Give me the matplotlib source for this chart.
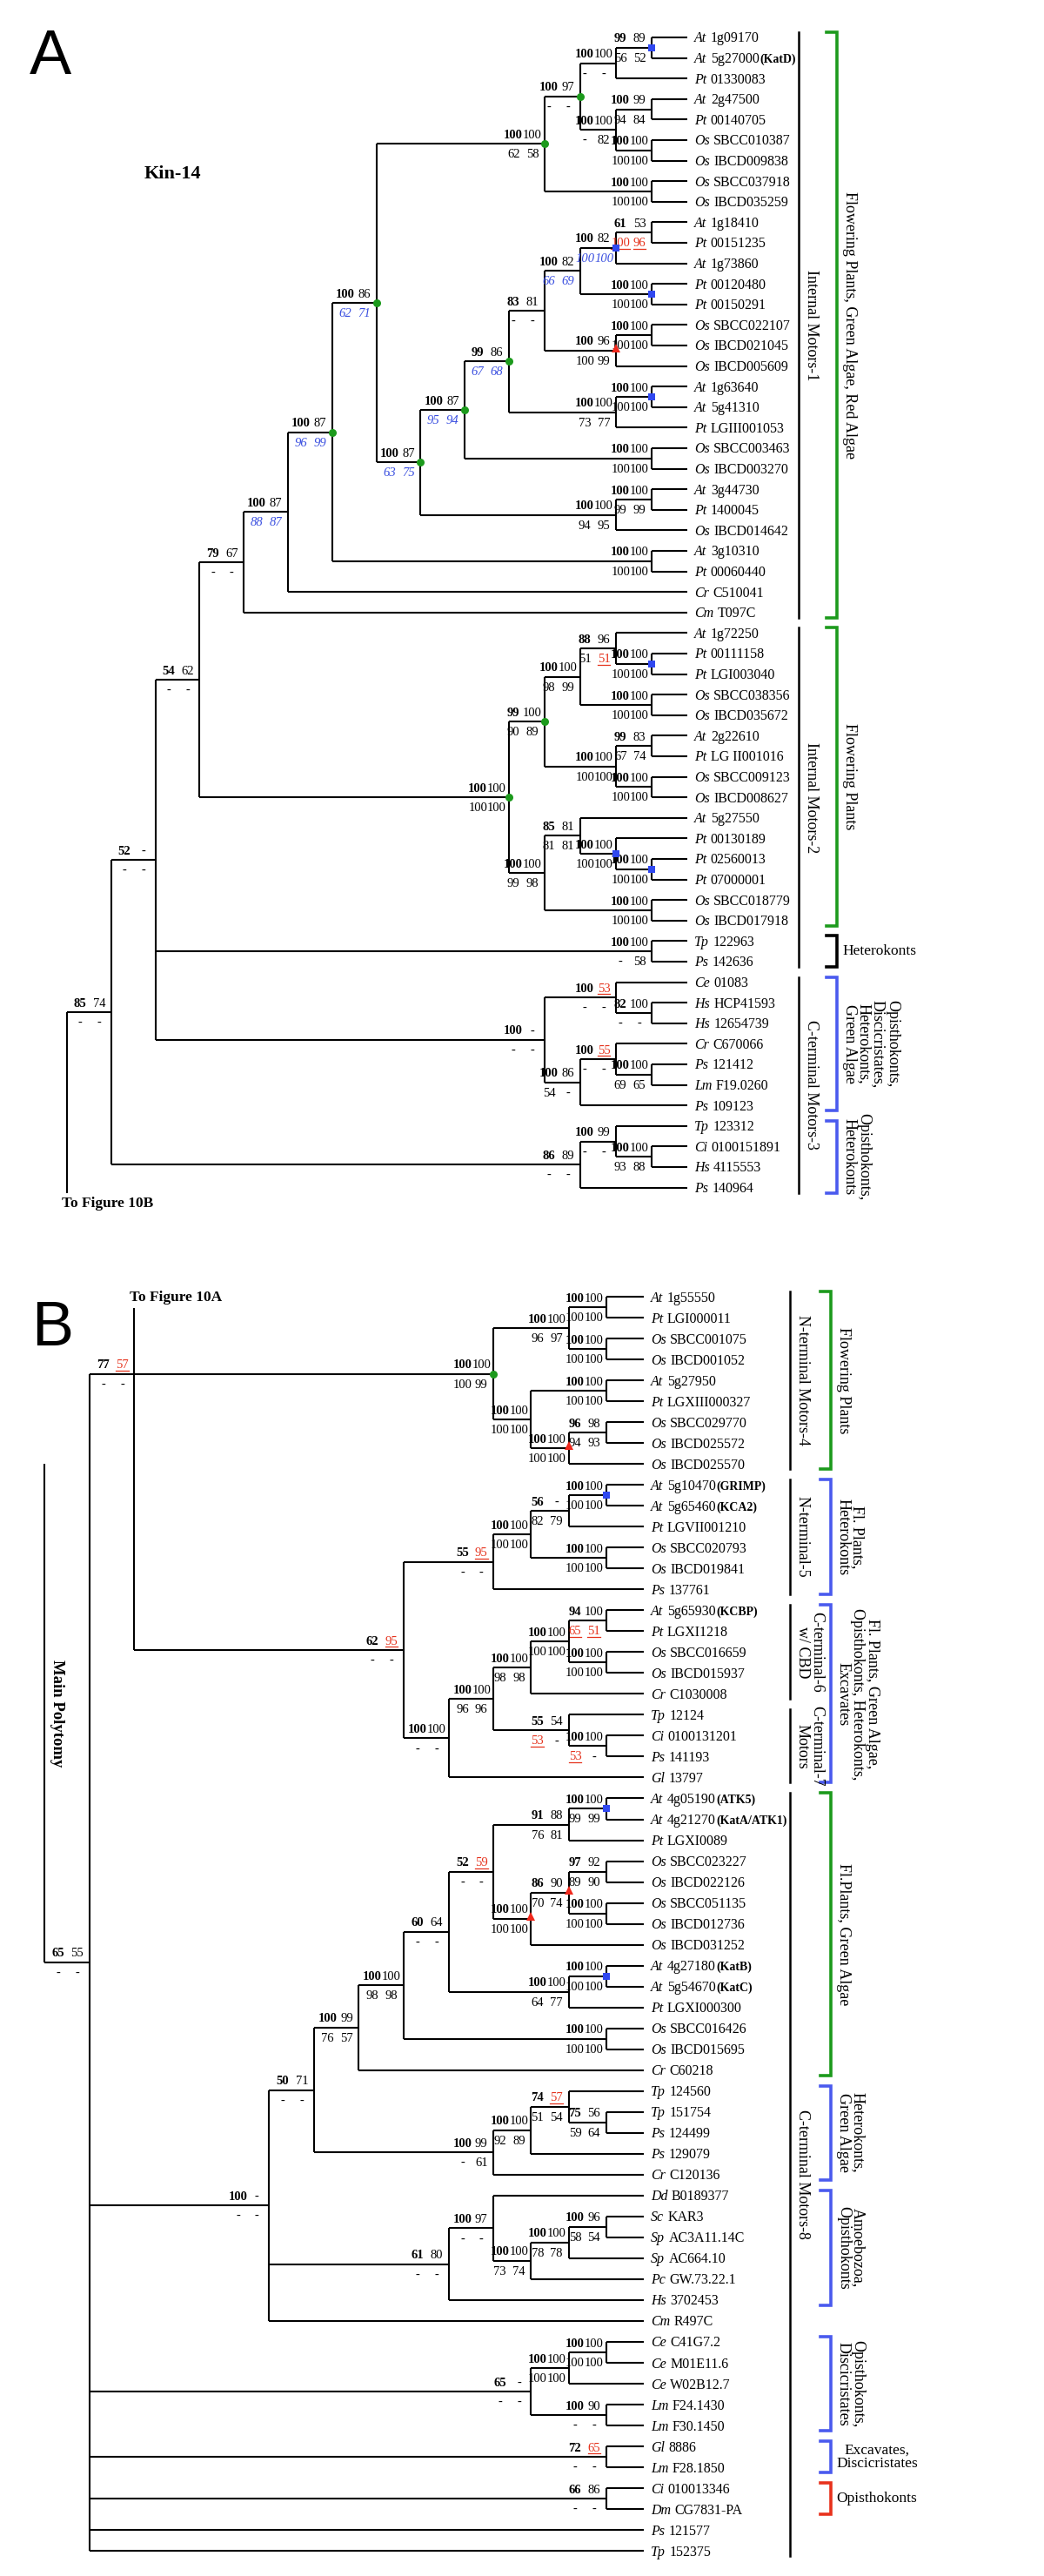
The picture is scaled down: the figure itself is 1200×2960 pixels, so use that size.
import matplotlib
matplotlib.use("Agg")
import matplotlib.pyplot as plt

SERIF = "Liberation Serif"
SANS = "Liberation Sans"
COLORS = {"green": "#1c9a1c", "blue": "#4a5aee", "black": "black", "red": "#e8321c"}
BLUE_TXT = "#3a4fe0"
RED = "#e5321c"

LEAF_FS = 11.5
SUFFIX_FS = 10
SUP_FS = 10.5
GROUP_FS = 13

# ---------------- panel A (Kin-14, upper half of the tree) ----------------
A_LEAVES = [
    "At 1g09170", "At 5g27000(KatD)", "Pt 01330083", "At 2g47500", "Pt 00140705",
    "Os SBCC010387", "Os IBCD009838", "Os SBCC037918", "Os IBCD035259",
    "At 1g18410", "Pt 00151235", "At 1g73860", "Pt 00120480", "Pt 00150291",
    "Os SBCC022107", "Os IBCD021045", "Os IBCD005609", "At 1g63640", "At 5g41310",
    "Pt LGIII001053", "Os SBCC003463", "Os IBCD003270", "At 3g44730", "Pt 1400045",
    "Os IBCD014642", "At 3g10310", "Pt 00060440", "Cr C510041", "Cm T097C",
    "At 1g72250", "Pt 00111158", "Pt LGI003040", "Os SBCC038356", "Os IBCD035672",
    "At 2g22610", "Pt LG II001016", "Os SBCC009123", "Os IBCD008627", "At 5g27550",
    "Pt 00130189", "Pt 02560013", "Pt 07000001", "Os SBCC018779", "Os IBCD017918",
    "Tp 122963", "Ps 142636", "Ce 01083", "Hs HCP41593", "Hs 12654739",
    "Cr C670066", "Ps 121412", "Lm F19.0260", "Ps 109123", "Tp 123312",
    "Ci 0100151891", "Hs 4115553", "Ps 140964",
]

# name, children (top to bottom), support above, support below, node mark
# "~" = blue italic row, "*" = red underlined value
A_CLADES = [
    ("a1", ["At 1g09170", "At 5g27000(KatD)"], "99 89", "56 52", "sq"),
    ("a2", ["a1", "Pt 01330083"], "100 100", "- -", ""),
    ("a3", ["At 2g47500", "Pt 00140705"], "100 99", "94 84", ""),
    ("a4", ["Os SBCC010387", "Os IBCD009838"], "100 100", "100 100", ""),
    ("a5", ["a3", "a4"], "100 100", "- 82", ""),
    ("a6", ["a2", "a5"], "100 97", "- -", "dot"),
    ("a7", ["Os SBCC037918", "Os IBCD035259"], "100 100", "100 100", ""),
    ("a8", ["a6", "a7"], "100 100", "62 58", "dot"),
    ("b1", ["At 1g18410", "Pt 00151235"], "61 53", "100* 96*", ""),
    ("b2", ["b1", "At 1g73860"], "100 82", "~100 100", "sq"),
    ("b3", ["Pt 00120480", "Pt 00150291"], "100 100", "100 100", "sq"),
    ("b4", ["b2", "b3"], "100 82", "~66 69", ""),
    ("b5", ["Os SBCC022107", "Os IBCD021045"], "100 100", "100 100", ""),
    ("b6", ["b5", "Os IBCD005609"], "100 96", "100 99", "tri"),
    ("b7", ["b4", "b6"], "83 81", "- -", ""),
    ("b8", ["At 1g63640", "At 5g41310"], "100 100", "100 100", "sq"),
    ("b9", ["b8", "Pt LGIII001053"], "100 100", "73 77", ""),
    ("b10", ["b7", "b9"], "99 86", "~67 68", "dot"),
    ("b11", ["Os SBCC003463", "Os IBCD003270"], "100 100", "100 100", ""),
    ("b12", ["b10", "b11"], "100 87", "~95 94", "dot"),
    ("c1", ["At 3g44730", "Pt 1400045"], "100 100", "99 99", ""),
    ("c2", ["c1", "Os IBCD014642"], "100 100", "94 95", ""),
    ("b13", ["b12", "c2"], "100 87", "~63 75", "dot"),
    ("a9", ["a8", "b13"], "100 86", "~62 71", "dot"),
    ("d1", ["At 3g10310", "Pt 00060440"], "100 100", "100 100", ""),
    ("a10", ["a9", "d1"], "100 87", "~96 99", "dot"),
    ("a11", ["a10", "Cr C510041"], "100 87", "~88 87", ""),
    ("a12", ["a11", "Cm T097C"], "79 67", "- -", ""),
    ("e1", ["Pt 00111158", "Pt LGI003040"], "100 100", "100 100", "sq"),
    ("e2", ["At 1g72250", "e1"], "88 96", "51 51*", ""),
    ("e3", ["Os SBCC038356", "Os IBCD035672"], "100 100", "100 100", ""),
    ("e4", ["e2", "e3"], "100 100", "98 99", ""),
    ("e5", ["At 2g22610", "Pt LG II001016"], "99 83", "67 74", ""),
    ("e6", ["Os SBCC009123", "Os IBCD008627"], "100 100", "100 100", ""),
    ("e7", ["e5", "e6"], "100 100", "100 100", ""),
    ("e8", ["e4", "e7"], "99 100", "90 89", "dot"),
    ("f1", ["Pt 02560013", "Pt 07000001"], "100 100", "100 100", "sq"),
    ("f2", ["Pt 00130189", "f1"], "100 100", "100 100", "sq"),
    ("f3", ["At 5g27550", "f2"], "85 81", "81 81", ""),
    ("f4", ["Os SBCC018779", "Os IBCD017918"], "100 100", "100 100", ""),
    ("f5", ["f3", "f4"], "100 100", "99 98", ""),
    ("e9", ["e8", "f5"], "100 100", "100 100", "dot"),
    ("a13", ["a12", "e9"], "54 62", "- -", ""),
    ("i1", ["Tp 122963", "Ps 142636"], "100 100", "- 58", ""),
    ("g1", ["Hs HCP41593", "Hs 12654739"], "82 100", "- -", ""),
    ("g2", ["Ce 01083", "g1"], "100 53*", "- -", ""),
    ("g3", ["Ps 121412", "Lm F19.0260"], "100 100", "69 65", ""),
    ("g4", ["Cr C670066", "g3"], "100 55*", "- -", ""),
    ("g5", ["g4", "Ps 109123"], "100 86", "54 -", ""),
    ("g6", ["g2", "g5"], "100 -", "- -", ""),
    ("n52", ["a13", "i1", "g6"], "52 -", "- -", ""),
    ("h1", ["Ci 0100151891", "Hs 4115553"], "100 100", "93 88", ""),
    ("h2", ["Tp 123312", "h1"], "100 99", "- -", ""),
    ("h3", ["h2", "Ps 140964"], "86 89", "- -", ""),
    ("r85", ["n52", "h3"], "85 74", "- -", ""),
]

A_LINES = [("Internal Motors-1", 0, 28), ("Internal Motors-2", 29, 45),
           ("C-terminal Motors-3", 46, 56)]
A_BRACKETS = [
    ("Flowering Plants, Green Algae, Red Algae", 0, 28, "green", "v"),
    ("Flowering Plants", 29, 43, "green", "v"),
    ("Heterokonts", 44, 45, "black", "h"),
    ("Opisthokonts,\nDiscicristates,\nHeterokonts,\nGreen Algae", 46, 52, "blue", "v"),
    ("Opisthokonts,\nHeterokonts", 53, 56, "blue", "v"),
]

# ---------------- panel B (lower half, main polytomy) ----------------
B_LEAVES = [
    "At 1g55550", "Pt LGI000011", "Os SBCC001075", "Os IBCD001052", "At 5g27950",
    "Pt LGXIII000327", "Os SBCC029770", "Os IBCD025572", "Os IBCD025570",
    "At 5g10470(GRIMP)", "At 5g65460(KCA2)", "Pt LGVII001210", "Os SBCC020793",
    "Os IBCD019841", "Ps 137761", "At 5g65930(KCBP)", "Pt LGXI1218", "Os SBCC016659",
    "Os IBCD015937", "Cr C1030008", "Tp 12124", "Ci 0100131201", "Ps 141193",
    "Gl 13797", "At 4g05190(ATK5)", "At 4g21270(KatA/ATK1)", "Pt LGXI0089",
    "Os SBCC023227", "Os IBCD022126", "Os SBCC051135", "Os IBCD012736",
    "Os IBCD031252", "At 4g27180(KatB)", "At 5g54670(KatC)", "Pt LGXI000300",
    "Os SBCC016426", "Os IBCD015695", "Cr C60218", "Tp 124560", "Tp 151754",
    "Ps 124499", "Ps 129079", "Cr C120136", "Dd B0189377", "Sc KAR3",
    "Sp AC3A11.14C", "Sp AC664.10", "Pc GW.73.22.1", "Hs 3702453", "Cm R497C",
    "Ce C41G7.2", "Ce M01E11.6", "Ce W02B12.7", "Lm F24.1430", "Lm F30.1450",
    "Gl 8886", "Lm F28.1850", "Ci 010013346", "Dm CG7831-PA", "Ps 121577",
    "Tp 152375",
]

B_CLADES = [
    ("j1", ["At 1g55550", "Pt LGI000011"], "100 100", "100 100", ""),
    ("j2", ["Os SBCC001075", "Os IBCD001052"], "100 100", "100 100", ""),
    ("j3", ["j1", "j2"], "100 100", "96 97", ""),
    ("j4", ["At 5g27950", "Pt LGXIII000327"], "100 100", "100 100", ""),
    ("j5", ["Os SBCC029770", "Os IBCD025572"], "96 98", "94 93", ""),
    ("j6", ["j5", "Os IBCD025570"], "100 100", "100 100", "tri"),
    ("j7", ["j4", "j6"], "100 100", "100 100", ""),
    ("j8", ["j3", "j7"], "100 100", "100 99", "dot"),
    ("k1", ["At 5g10470(GRIMP)", "At 5g65460(KCA2)"], "100 100", "100 100", "sq"),
    ("k2", ["k1", "Pt LGVII001210"], "56 -", "82 79", ""),
    ("k3", ["Os SBCC020793", "Os IBCD019841"], "100 100", "100 100", ""),
    ("k4", ["k2", "k3"], "100 100", "100 100", ""),
    ("k5", ["k4", "Ps 137761"], "55 95*", "- -", ""),
    ("l1", ["At 5g65930(KCBP)", "Pt LGXI1218"], "94 100", "65* 51*", ""),
    ("l2", ["Os SBCC016659", "Os IBCD015937"], "100 100", "100 100", ""),
    ("l3", ["l1", "l2"], "100 100", "100 100", ""),
    ("l4", ["l3", "Cr C1030008"], "100 100", "98 98", ""),
    ("m1", ["Ci 0100131201", "Ps 141193"], "100 100", "53* -", ""),
    ("m2", ["Tp 12124", "m1"], "55 54", "53* -", ""),
    ("l5", ["l4", "m2"], "100 100", "96 96", ""),
    ("l6", ["l5", "Gl 13797"], "100 100", "- -", ""),
    ("n62", ["k5", "l6"], "62 95*", "- -", ""),
    ("n77", ["j8", "n62"], "77 57*", "- -", ""),
    ("p1", ["At 4g05190(ATK5)", "At 4g21270(KatA/ATK1)"], "100 100", "99 99", "sq"),
    ("p2", ["p1", "Pt LGXI0089"], "91 88", "76 81", ""),
    ("p3", ["Os SBCC023227", "Os IBCD022126"], "97 92", "89 90", ""),
    ("p4", ["Os SBCC051135", "Os IBCD012736"], "100 100", "100 100", ""),
    ("p5", ["p3", "p4"], "86 90", "70 74", "tri"),
    ("p6", ["p5", "Os IBCD031252"], "100 100", "100 100", "tri"),
    ("p7", ["p2", "p6"], "52 59*", "- -", ""),
    ("q1", ["At 4g27180(KatB)", "At 5g54670(KatC)"], "100 100", "100 100", "sq"),
    ("q2", ["q1", "Pt LGXI000300"], "100 100", "64 77", ""),
    ("p8", ["p7", "q2"], "60 64", "- -", ""),
    ("q3", ["Os SBCC016426", "Os IBCD015695"], "100 100", "100 100", ""),
    ("p9", ["p8", "q3"], "100 100", "98 98", ""),
    ("p10", ["p9", "Cr C60218"], "100 99", "76 57", ""),
    ("r1", ["Tp 151754", "Ps 124499"], "75 56", "59 64", ""),
    ("r2", ["Tp 124560", "r1"], "74 57*", "51 54", ""),
    ("r3", ["r2", "Ps 129079"], "100 100", "92 89", ""),
    ("r4", ["r3", "Cr C120136"], "100 99", "- 61", ""),
    ("p11", ["p10", "r4"], "50 71", "- -", ""),
    ("s1", ["Sc KAR3", "Sp AC3A11.14C"], "100 96", "58 54", ""),
    ("s2", ["s1", "Sp AC664.10"], "100 100", "78 78", ""),
    ("s3", ["s2", "Pc GW.73.22.1"], "100 100", "73 74", ""),
    ("s4", ["Dd B0189377", "s3"], "100 97", "- -", ""),
    ("s5", ["s4", "Hs 3702453"], "61 80", "- -", ""),
    ("p12", ["p11", "s5", "Cm R497C"], "100 -", "- -", ""),
    ("t1", ["Ce C41G7.2", "Ce M01E11.6"], "100 100", "100 100", ""),
    ("t2", ["t1", "Ce W02B12.7"], "100 100", "100 100", ""),
    ("t3", ["Lm F24.1430", "Lm F30.1450"], "100 90", "- -", ""),
    ("t4", ["t2", "t3"], "65 -", "- -", ""),
    ("u1", ["Gl 8886", "Lm F28.1850"], "72 65*", "- -", ""),
    ("u2", ["Ci 010013346", "Dm CG7831-PA"], "66 86", "- -", ""),
    ("main", ["n77", "p12", "t4", "u1", "u2", "Ps 121577", "Tp 152375"], "65 55", "- -", ""),
]

B_LINES = [("N-terminal Motors-4", 0, 8), ("N-terminal-5", 9, 14),
           ("C-terminal-6\nw/ CBD", 15, 19), ("C-terminal-7\nMotors", 20, 23),
           ("C-terminal Motors-8", 24, 60)]
B_BRACKETS = [
    ("Flowering Plants", 0, 8, "green", "v"),
    ("Fl. Plants,\nHeterokonts", 9, 14, "blue", "v"),
    ("Fl. Plants, Green Algae,\nOpisthokonts, Heterokonts,\nExcavates", 15, 23, "blue", "v"),
    ("Fl.Plants, Green Algae", 24, 37, "green", "v"),
    ("Heterokonts,\nGreen Algae", 38, 42, "blue", "v"),
    ("Amoebozoa,\nOpisthokonts", 43, 48, "blue", "v"),
    ("Opisthokonts,\nDiscicristates", 50, 54, "blue", "v"),
    ("Excavates,\nDiscicristates", 55, 56, "blue", "h"),
    ("Opisthokonts", 57, 58, "red", "h"),
]

# layout of the two panels (pixels)
A_LAYOUT = dict(y0=43, dy=23.6, tip=790, k=5, s1=41, s2=50.8, line_x=918, bracket_x=962)
B_LAYOUT = dict(y0=1490, dy=24.02, tip=740, k=4, s1=43.2, s2=51.6, line_x=908, bracket_x=955)
B_RANK_FIX = {"n77": 12, "main": 13}
B_ANCHOR = {"n77": 0}

fig = plt.figure(figsize=(12, 29.6), dpi=100)
ax = fig.add_axes([0, 0, 1, 1])
ax.set_xlim(0, 1200)
ax.set_ylim(2960, 0)
ax.axis("off")
R = fig.canvas.get_renderer()


def width(t):
    return t.get_window_extent(renderer=R).width


_t = ax.text(0, 0, "100", fontsize=SUP_FS, family=SERIF, weight="bold")
COL_W = width(_t)
_t.remove()


def xcol(rank, L):
    return L["tip"] - L["s1"] * min(rank, L["k"]) - L["s2"] * max(rank - L["k"], 0)


def layout_tree(leaves, clades, L, rank_fix={}, anchor={}):
    ypos = {n: L["y0"] + i * L["dy"] for i, n in enumerate(leaves)}
    rank = {n: 0 for n in leaves}
    for name, kids, *_ in clades:
        rank[name] = rank_fix.get(name, max(rank[k] for k in kids) + 1)
        if name in anchor:
            ypos[name] = ypos[kids[anchor[name]]]
        else:
            ypos[name] = (ypos[kids[0]] + ypos[kids[-1]]) / 2
    xpos = {n: xcol(r, L) for n, r in rank.items()}
    return xpos, ypos


def seg(xs, ys, **kw):
    ax.plot(xs, ys, color="black", lw=1.5, solid_capstyle="butt", **kw)


def leaf_label(x, y, label):
    genus, rest = label.split(" ", 1)
    extra = ""
    if "(" in rest:
        cut = rest.index("(")
        rest, extra = rest[:cut], rest[cut:]
    kw = dict(family=SERIF, va="baseline", ha="left")
    base = y + 5.5
    t = ax.text(x, base, genus, style="italic", fontsize=LEAF_FS, **kw)
    x += width(t) + 4.5
    t = ax.text(x, base, rest, fontsize=LEAF_FS, **kw)
    if extra:
        x += width(t) + 0.5
        ax.text(x, base, extra, weight="bold", fontsize=SUFFIX_FS, **kw)


def support(x, y, top, bottom):
    for row, spec in ((0, top), (1, bottom)):
        blue = spec.startswith("~")
        toks = spec.lstrip("~").split()
        base = y - 6.5 if row == 0 else y + 16
        for k, tok in enumerate(toks):
            red = tok.endswith("*")
            tok = tok.rstrip("*")
            cx = x - 3 - COL_W * (len(toks) - k - 0.5)
            colour = RED if red else (BLUE_TXT if blue else "black")
            t = ax.text(cx, base, tok, ha="center", va="baseline", family=SERIF,
                        fontsize=SUP_FS, color=colour,
                        weight="bold" if (row == 0 and k == 0) else "normal",
                        style="italic" if blue else "normal")
            if red:
                w = width(t)
                uy = base + 2.5
                ax.plot([cx - w / 2, cx + w / 2], [uy, uy], color=RED, lw=0.9)


MARKS = {"dot": dict(marker="o", color="#1c9a1c", ms=6.5),
         "sq": dict(marker="s", color="#3048f0", ms=6),
         "tri": dict(marker="^", color="#f0281c", ms=6.5)}


def draw_tree(leaves, clades, L, rank_fix={}, anchor={}):
    xpos, ypos = layout_tree(leaves, clades, L, rank_fix, anchor)
    for name in leaves:
        leaf_label(L["tip"] + 8, ypos[name], name)
    for name, kids, top, bottom, mark in clades:
        x, y = xpos[name], ypos[name]
        ys = [ypos[k] for k in kids]
        seg([x, x], [min(ys), max(ys)])
        for k in kids:
            seg([x, xpos[k]], [ypos[k], ypos[k]])
        support(x, y, top, bottom)
        if mark:
            m = MARKS[mark]
            ax.plot([x], [y - (3 if mark == "tri" else 0)], linestyle="none",
                    marker=m["marker"], color=m["color"], ms=m["ms"], zorder=5,
                    markeredgewidth=0)
    return xpos, ypos


def draw_groups(lines, brackets, L):
    ly = lambda i: L["y0"] + i * L["dy"]
    for label, i0, i1 in lines:
        y0, y1 = ly(i0) - 6, ly(i1) + 6
        ax.plot([L["line_x"]] * 2, [y0, y1], color="black", lw=1.8)
        ax.text(L["line_x"] + 6, (y0 + y1) / 2, label, rotation=-90, ha="left",
                va="center", fontsize=GROUP_FS, family=SERIF,
                multialignment="center", linespacing=0.95)
    for label, i0, i1, colour, orient in brackets:
        y0, y1 = ly(i0) - 6, ly(i1) + 6
        bx = L["bracket_x"]
        ax.plot([bx - 12, bx, bx, bx - 12], [y0, y0, y1, y1], color=COLORS[colour],
                lw=2.6, solid_joinstyle="miter")
        ax.text(bx + 6, (y0 + y1) / 2, label, rotation=-90 if orient == "v" else 0,
                ha="left", va="center", fontsize=GROUP_FS if orient == "v" else 12.5,
                family=SERIF, multialignment="center", linespacing=0.95)


# ---- panel A ----
xa, ya = draw_tree(A_LEAVES, A_CLADES, A_LAYOUT)
root_x = xcol(15, A_LAYOUT)
last_a = A_LAYOUT["y0"] + (len(A_LEAVES) - 1) * A_LAYOUT["dy"]
seg([root_x, xa["r85"]], [ya["r85"], ya["r85"]])
seg([root_x, root_x], [ya["r85"], last_a + 6])
ax.text(root_x - 6, last_a + 18, "To Figure 10B", ha="left", va="center",
        family=SERIF, weight="bold", fontsize=12.5)
draw_groups(A_LINES, A_BRACKETS, A_LAYOUT)
ax.text(34, 85, "A", family=SANS, fontsize=52, ha="left", va="baseline")
ax.text(198, 200, "Kin-14", family=SERIF, weight="bold", fontsize=16,
        ha="center", va="center")

# ---- panel B ----
xb, yb = draw_tree(B_LEAVES, B_CLADES, B_LAYOUT, B_RANK_FIX, B_ANCHOR)
first_b = B_LAYOUT["y0"]
seg([xb["n77"], xb["n77"]], [first_b + 13, yb["n77"]])
ax.text(xb["n77"] - 5, first_b + 1, "To Figure 10A", ha="left", va="center",
        family=SERIF, weight="bold", fontsize=12.5)
stem_x = xcol(14, B_LAYOUT)
stem_top = B_LAYOUT["y0"] + 8 * B_LAYOUT["dy"]
seg([stem_x, xb["main"]], [yb["main"], yb["main"]])
seg([stem_x, stem_x], [stem_top, yb["main"]])
ax.text(stem_x + 6, (stem_top + yb["main"]) / 2, "Main Polytomy", rotation=-90,
        ha="left", va="center", family=SERIF, weight="bold", fontsize=13.5)
draw_groups(B_LINES, B_BRACKETS, B_LAYOUT)
ax.text(36, 1546, "B", family=SANS, fontsize=52, ha="left", va="baseline")

fig.savefig("out.png", dpi=100)
